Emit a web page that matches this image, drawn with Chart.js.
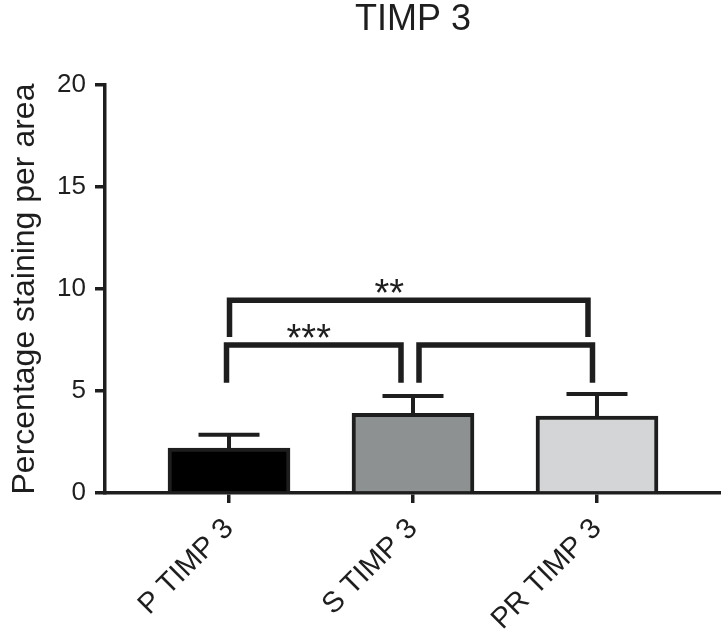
<!DOCTYPE html>
<html><head><meta charset="utf-8">
<script src="https://cdn.jsdelivr.net/npm/chart.js@4.4.1/dist/chart.umd.min.js"></script>
<style>html,body{margin:0;padding:0;background:#fff;}#wrap{width:721px;height:632px;}</style>
</head><body><div id="wrap"><canvas id="c" width="721" height="632"></canvas></div>
<script>
// ---- data ----
const chartTitle = 'TIMP 3';
const yAxisTitle = 'Percentage staining per area';
const categories = ['P TIMP 3', 'S TIMP 3', 'PR TIMP 3'];
const meanValues = [2.2, 3.9, 3.77];
const errorUpper = [2.85, 4.75, 4.85];
const yTickValues = [0, 5, 10, 15, 20];
const bracketFrom = [0, 0, 1];
const bracketTo = [2, 1, 2];
const bracketLevel = [9.45, 7.25, 7.25];
const bracketLegEnd = [7.65, 5.4, 5.4];
const bracketLabels = ['**', '***', ''];

// ---- styles ----
const INK = '#1e1e1e';
const FONT = '"Liberation Sans", Arial, sans-serif';
const barFills = ['#000000', '#8e9192', '#d3d5d6'];
const bracketStyle = [
  {dx1: 0.5, dx2: -9, labelDx: -19.5},
  {dx1: -2.5, dx2: -12, labelDx: -5},
  {dx1: 6, dx2: -4.5, labelDx: 0}
];

const errorBarPlugin = {
  id: 'errorBars',
  afterDatasetsDraw(chart) {
    const ctx = chart.ctx, xs = chart.scales.x, ys = chart.scales.y;
    ctx.save();
    ctx.strokeStyle = INK; ctx.lineWidth = 4; ctx.lineCap = 'butt';
    meanValues.forEach((v, i) => {
      const x = xs.getPixelForValue(i);
      const y0 = ys.getPixelForValue(v);
      const y1 = ys.getPixelForValue(errorUpper[i]);
      ctx.beginPath();
      ctx.moveTo(x, y0); ctx.lineTo(x, y1);
      ctx.moveTo(x - 30.5, y1); ctx.lineTo(x + 30.5, y1);
      ctx.stroke();
    });
    ctx.restore();
  }
};

const bracketPlugin = {
  id: 'brackets',
  afterDraw(chart) {
    const ctx = chart.ctx, xs = chart.scales.x, ys = chart.scales.y;
    ctx.save();
    ctx.strokeStyle = INK; ctx.fillStyle = INK; ctx.lineWidth = 5.5;
    ctx.lineJoin = 'miter'; ctx.lineCap = 'butt';
    bracketFrom.forEach((f, i) => {
      const st = bracketStyle[i];
      const x1 = xs.getPixelForValue(f) + st.dx1;
      const x2 = xs.getPixelForValue(bracketTo[i]) + st.dx2;
      const y = ys.getPixelForValue(bracketLevel[i]);
      const yb = ys.getPixelForValue(bracketLegEnd[i]);
      ctx.beginPath();
      ctx.moveTo(x1, yb); ctx.lineTo(x1, y); ctx.lineTo(x2, y); ctx.lineTo(x2, yb);
      ctx.stroke();
      const lab = bracketLabels[i];
      if (lab) {
        ctx.font = '38px ' + FONT;
        ctx.textAlign = 'center'; ctx.textBaseline = 'alphabetic';
        const m = ctx.measureText(lab);
        const inkMid = (m.actualBoundingBoxAscent - m.actualBoundingBoxDescent) / 2;
        const cx = (x1 + x2) / 2 + st.labelDx;
        const cy = y - 14.5;
        ctx.fillText(lab, cx, cy + inkMid);
      }
    });
    ctx.restore();
  }
};

new Chart(document.getElementById('c'), {
  type: 'bar',
  data: {
    datasets: [{
      data: categories.map((c, i) => ({x: i, y: meanValues[i]})),
      backgroundColor: barFills,
      borderColor: INK,
      borderWidth: 4,
      borderSkipped: 'start',
      barThickness: 122
    }]
  },
  options: {
    responsive: false,
    animation: false,
    layout: {padding: 0},
    plugins: {
      legend: {display: false},
      tooltip: {enabled: false},
      title: {
        display: true, text: chartTitle, fullSize: false, color: INK,
        font: {family: FONT, size: 36, weight: 'normal', lineHeight: 1},
        padding: {top: 2, bottom: 47}
      }
    },
    scales: {
      x: {
        type: 'linear', min: -0.674, max: 2.674, offset: false,
        afterBuildTicks: (s) => { s.ticks = categories.map((c, i) => ({value: i})); },
        afterFit: (s) => { s.height = 139; },
        ticks: {
          autoSkip: false, maxRotation: 45, minRotation: 45, padding: 9, color: INK,
          font: {family: FONT, size: 29},
          callback: (v) => categories[v] ?? ''
        },
        grid: {offset: false, drawOnChartArea: false, drawTicks: true, tickLength: 10, lineWidth: 3.5, color: INK},
        border: {display: true, width: 3.5, color: INK}
      },
      y: {
        min: 0, max: 20,
        afterBuildTicks: (s) => { s.ticks = yTickValues.map(v => ({value: v})); },
        afterFit: (s) => { s.width = 105; },
        ticks: {
          padding: 9, color: INK,
          font: {family: FONT, size: 26}
        },
        grid: {drawOnChartArea: false, drawTicks: true, tickLength: 10, lineWidth: 3.5, color: INK},
        border: {display: true, width: 3.5, color: INK},
        title: {
          display: true, text: yAxisTitle, color: INK,
          font: {family: FONT, size: 32},
          padding: {top: 6, bottom: 0}
        }
      }
    }
  },
  plugins: [errorBarPlugin, bracketPlugin]
});
</script>
</body></html>
